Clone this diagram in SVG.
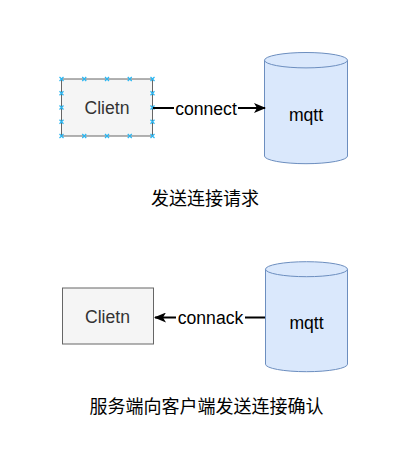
<svg xmlns="http://www.w3.org/2000/svg" width="409" height="454" viewBox="0 0 409 454">
<defs>
<style>
.box{fill:#f5f5f5;stroke:#666666;stroke-width:1}
.cyl{fill:#dae8fc;stroke:#6c8ebf;stroke-width:1}
.lbl{font-family:"Liberation Sans",Arial,sans-serif;font-size:17.6px;text-anchor:middle}
.cjk{font-family:"Liberation Sans","Noto Sans CJK SC",sans-serif;font-size:18px;text-anchor:middle;fill:#000}
.edge{stroke:#000;stroke-width:2.2;fill:none}
.h{stroke:#29b6f2;stroke-width:1.2;fill:none}
</style>
<marker id="arr" viewBox="0 0 12 10" refX="11" refY="5" markerWidth="12" markerHeight="10" markerUnits="userSpaceOnUse" orient="auto">
<path d="M0,0 L12,5 L0,10 L3,5 Z" fill="#000"/>
</marker>
<path id="x" d="M-2,-2 L2,2 M-2,2 L2,-2"/>
</defs>
<rect width="409" height="454" fill="#ffffff"/>

<g id="client1">
<rect class="box" x="61.5" y="79" width="91" height="57"/>
<text class="lbl" x="107" y="114" fill="#333333">Clietn</text>
<g class="h">
<use href="#x" x="61.5" y="79"/><use href="#x" x="84.25" y="79"/><use href="#x" x="107" y="79"/><use href="#x" x="129.75" y="79"/><use href="#x" x="152.5" y="79"/>
<use href="#x" x="61.5" y="136"/><use href="#x" x="84.25" y="136"/><use href="#x" x="107" y="136"/><use href="#x" x="129.75" y="136"/><use href="#x" x="152.5" y="136"/>
<use href="#x" x="61.5" y="93.25"/><use href="#x" x="61.5" y="107.5"/><use href="#x" x="61.5" y="121.75"/>
<use href="#x" x="152.5" y="93.25"/><use href="#x" x="152.5" y="107.5"/><use href="#x" x="152.5" y="121.75"/>
</g>
</g>

<g id="mqtt1">
<path class="cyl" d="M264.5,60.2 A41.5,7.7 0 0 1 347.5,60.2 L347.5,156 A41.5,7.7 0 0 1 264.5,156 Z"/>
<path class="cyl" fill="none" d="M264.5,60.2 A41.5,7.7 0 0 0 347.5,60.2"/>
<text class="lbl" x="306" y="120.5" fill="#000">mqtt</text>
</g>

<g id="client2">
<rect class="box" x="62.5" y="288" width="91" height="56"/>
<text class="lbl" x="107.5" y="322.5" fill="#333333">Clietn</text>
</g>

<g id="mqtt2">
<path class="cyl" d="M265.5,269.2 A41,7.5 0 0 1 347.5,269.2 L347.5,364.2 A41,7.5 0 0 1 265.5,364.2 Z"/>
<path class="cyl" fill="none" d="M265.5,269.2 A41,7.5 0 0 0 347.5,269.2"/>
<text class="lbl" x="306.5" y="329" fill="#000">mqtt</text>
</g>

<g id="connectors">
<line class="edge" x1="153" y1="108" x2="265" y2="108" marker-end="url(#arr)"/>
<rect x="174" y="97" width="64" height="20" fill="#ffffff"/>
<text class="lbl" x="206" y="114.5" fill="#000">connect</text>
<line class="edge" x1="265" y1="317.5" x2="155" y2="317.5" marker-end="url(#arr)"/>
<rect x="176" y="307" width="69" height="20" fill="#ffffff"/>
<text class="lbl" x="210.5" y="323.5" fill="#000">connack</text>
</g>

<g id="caption1">
<text class="cjk" x="205" y="205">发送连接请求</text>
</g>
<g id="caption2">
<text class="cjk" x="206.5" y="413">服务端向客户端发送连接确认</text>
</g>
</svg>
